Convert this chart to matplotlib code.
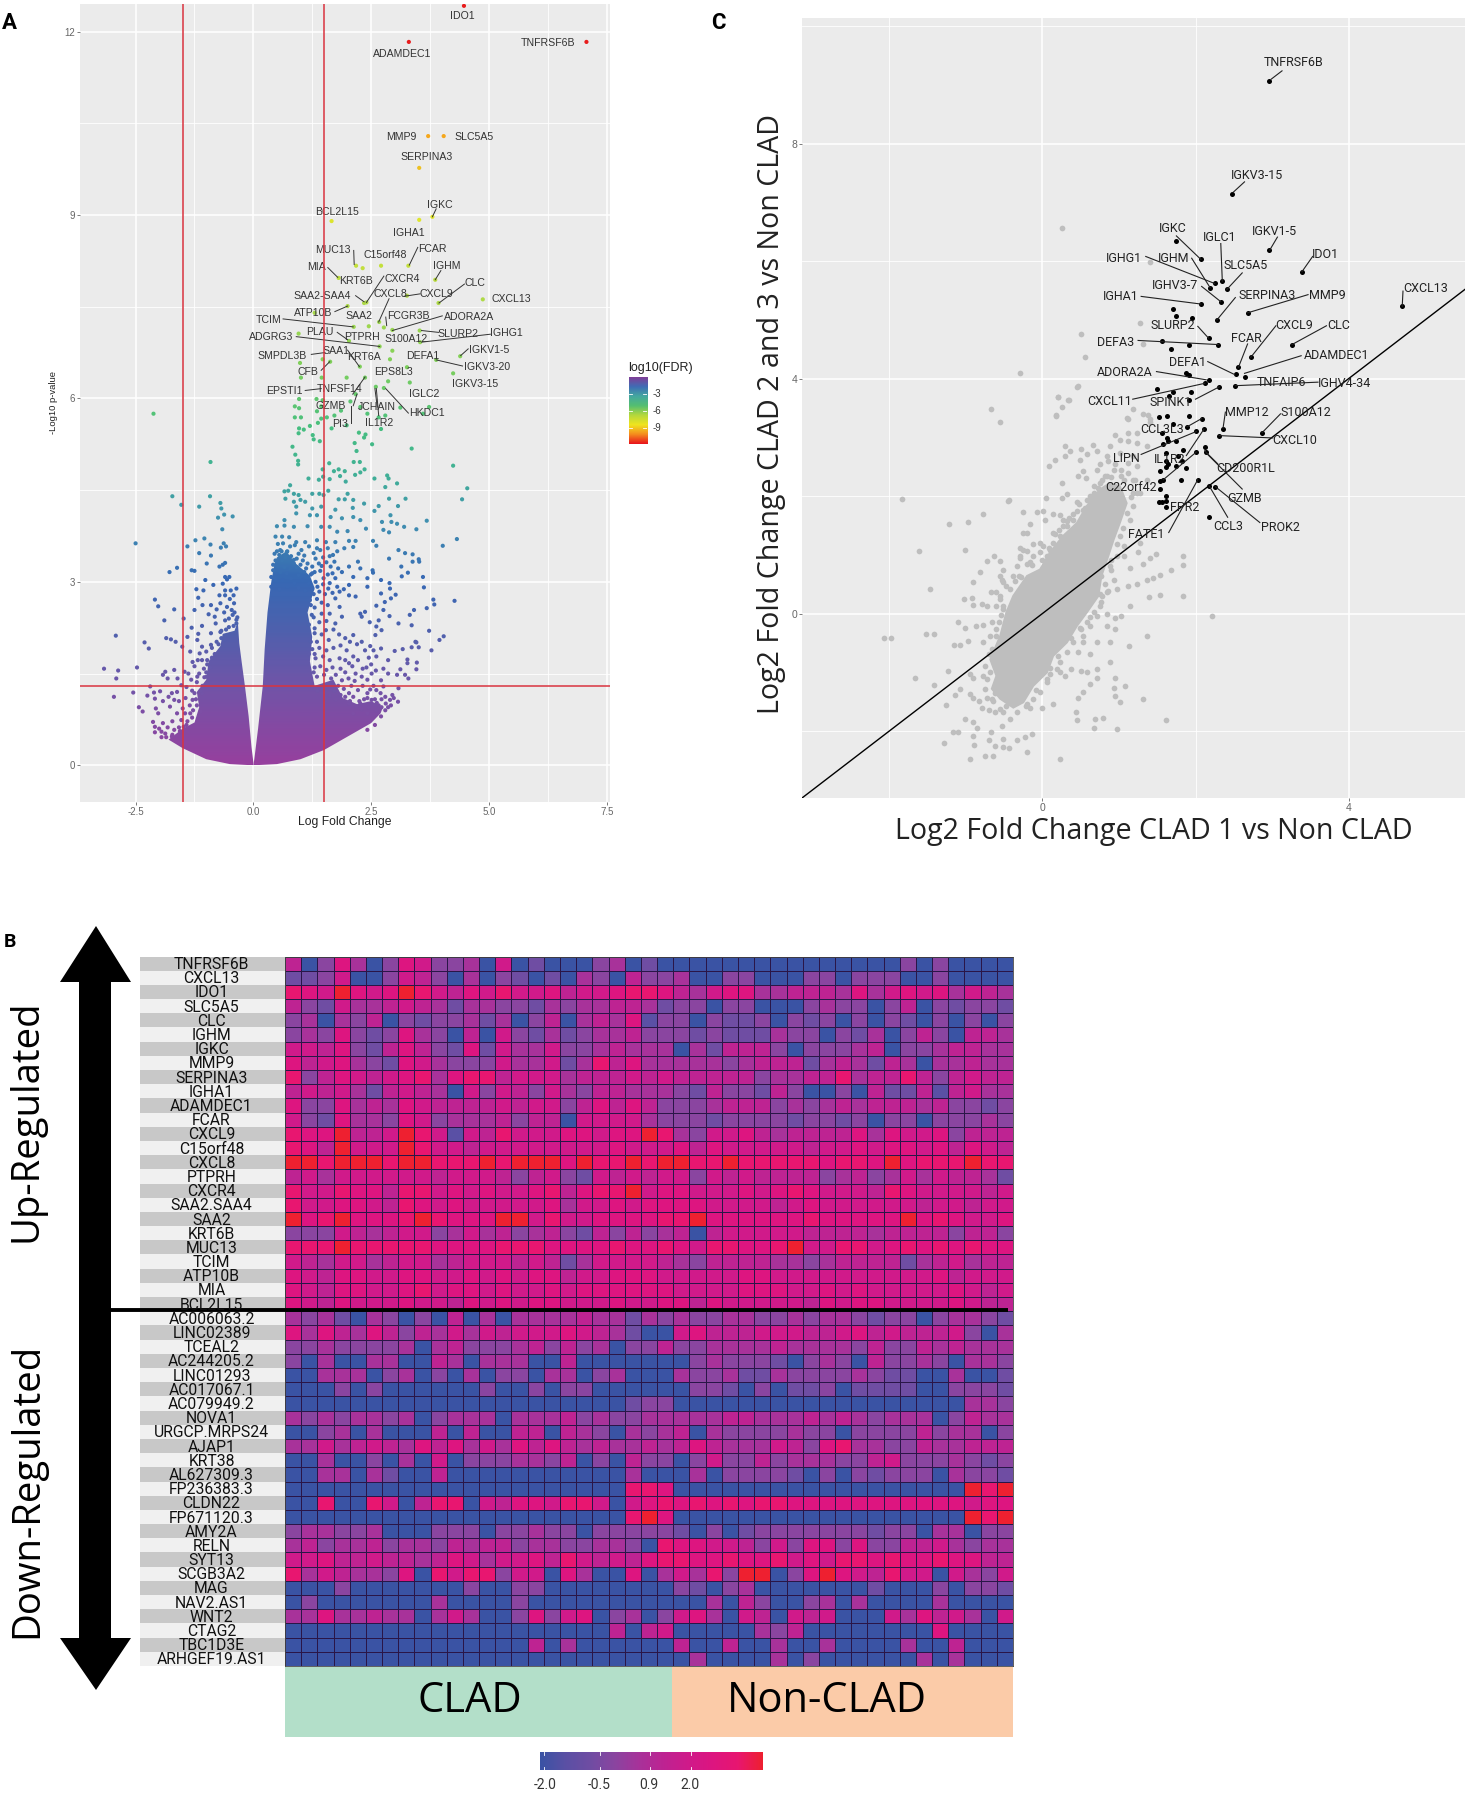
import numpy as np
import matplotlib
matplotlib.use("Agg")
import matplotlib.pyplot as plt
from matplotlib.colors import LinearSegmentedColormap, ListedColormap
from matplotlib.patches import Polygon, Rectangle

W, H = 1465, 1800
NARROW = ["Liberation Sans Narrow", "Roboto", "DejaVu Sans"]
ARIAL = ["Liberation Sans", "DejaVu Sans"]
WIDE = ["Open Sans", "DejaVu Sans"]

# ---- panel A: volcano plot (log fold change, -log10 p)
a_top_pts = [(4.47,12.42),(3.30,11.83),(7.07,11.83),(3.71,10.29),(4.04,10.29),(3.52,9.77),(1.66,8.90),(3.80,8.97),(3.52,8.92),
    (2.18,8.17),(2.32,8.13),(2.71,8.17),(3.29,8.17),(3.86,7.94),(1.81,7.97),(2.40,7.57),(2.35,7.56),(3.26,7.68),(3.93,7.56),
    (4.87,7.62),(2.0,7.51),(1.30,7.40),(2.67,7.25),(2.77,7.16),(2.95,7.12),(2.13,7.17),(2.45,7.18),(3.53,7.11),(3.54,6.92),
    (0.96,7.06),(2.03,6.94),(2.68,6.85),(2.26,6.52),(2.95,6.78),(2.90,6.64),(1.47,6.64),(1.63,6.60),(0.99,6.58),(3.88,6.63),
    (4.39,6.69),(4.24,6.41),(3.26,6.51),(1.01,6.34),(1.45,6.34),(1.98,6.34),(2.37,6.34),(2.86,6.28),(3.32,6.26),(2.60,6.19),(2.77,6.17)]
a_pts_6_5 = [(0.97,5.99),(1.34,5.99),(1.47,5.97),(2.17,6.07),(2.06,5.95),(0.88,5.87),(0.97,5.84),(1.44,5.87),(2.27,5.86),(3.12,5.85),
    (3.73,5.86),(1.35,5.79),(1.86,5.80),(2.42,5.75),(2.66,5.69),(2.80,5.72),(3.60,5.75),(0.88,5.69),(1.01,5.69),(1.44,5.67),(1.56,5.69),
    (1.72,5.72),(1.37,5.60),(1.98,5.56),(1.20,5.55),(1.66,5.51),(2.71,5.50),(0.97,5.51),(1.07,5.49),(0.96,5.43),(2.24,5.44),(1.26,5.40),
    (2.38,5.41),(2.35,5.36),(1.28,5.33),(1.41,5.30),(2.15,5.27),(2.52,5.25),(0.83,5.21),(3.36,5.18),(2.19,5.14),(0.89,5.08),(0.95,4.98),
    (0.95,4.92),(-0.91,4.96),(-2.12,5.75),(1.61,4.94),(2.13,4.96),(2.26,4.96),(4.24,4.90)]
a_pts_5_4 = [(1.47,4.84),(1.71,4.81),(1.81,4.84),(1.94,4.81),(1.84,4.73),(1.96,4.64),(1.17,4.69),(1.39,4.67),(1.48,4.72),(1.62,4.68),
    (2.16,4.75),(2.27,4.79),(2.36,4.84),(2.57,4.69),(2.84,4.74),(2.87,4.69),(2.80,4.55),(3.05,4.61),(4.54,4.53),(0.78,4.58),(-1.72,4.40),
    (-1.53,4.26),(-1.15,4.23),(-0.92,4.40),(-0.70,4.29),(-0.68,4.20),(-0.62,4.10),(-0.75,4.05),(-0.44,4.07),(0.66,4.48),(0.74,4.49),
    (0.86,4.44),(0.68,4.36),(0.96,4.42),(1.00,4.34),(1.10,4.31),(0.86,4.31),(1.25,4.44),(1.40,4.44),(1.49,4.42),(1.59,4.49),(2.00,4.44),
    (1.81,4.35),(1.94,4.35),(2.12,4.34),(2.35,4.28),(2.88,4.36),(3.23,4.36),(4.43,4.35),(2.66,4.24),(3.07,4.24),(2.57,4.16),(2.91,4.09),
    (2.12,4.06),(0.91,4.23),(1.25,4.20),(1.44,4.23),(1.74,4.18),(2.11,4.21),(0.91,4.12),(1.20,4.09),(1.35,4.09),(1.64,4.06),(1.88,4.04)]
a_pts_4_3 = [(-0.66,3.86),(-2.50,3.63),(-1.40,3.58),(-1.23,3.68),(-1.04,3.71),(-0.91,3.61),(-0.63,3.63),(-0.69,3.56),(-0.58,3.58),
    (-1.15,3.47),(-0.90,3.43),(-1.62,3.23),(-1.78,3.16),(-1.31,3.19),(-1.25,3.18),(-0.99,3.30),(-0.72,3.25),(-0.65,3.28),(-0.60,3.31),
    (-1.02,3.03),(-0.60,3.08),(-0.51,3.08),(-0.56,3.04),(0.50,3.91),(0.66,4.01),(0.66,3.92),(0.86,3.90),(1.15,3.91),(1.44,3.90),(1.62,3.90),
    (1.78,3.82),(2.00,3.83),(2.27,4.01),(2.39,3.87),(2.73,3.98),(2.76,3.85),(2.88,3.81),(2.93,3.98),(3.05,3.95),(3.20,3.90),(3.46,3.86),
    (3.68,4.00),(4.32,3.70),(4.02,3.59),(2.54,3.67),(2.61,3.59),(3.08,3.52),(3.22,3.47),(3.38,3.45),(2.88,3.38),(3.51,3.37),(3.38,3.33),
    (3.52,3.33),(3.14,3.25),(3.28,3.15),(3.15,3.09),(3.60,3.08),(2.53,3.19),(2.54,3.15),(0.47,3.74),(0.61,3.74),(0.76,3.73),(0.91,3.65),
    (1.10,3.65),(1.35,3.68),(1.54,3.65),(1.74,3.65),(2.03,3.67),(2.17,3.67),(2.12,3.57),(1.93,3.55),(0.57,3.52),(0.71,3.49),(0.96,3.46),
    (1.35,3.55),(1.69,3.44),(2.22,3.33),(0.47,3.35),(0.61,3.35),(0.86,3.30),(1.05,3.35),(1.25,3.25),(1.39,3.30),(1.64,3.25),(1.88,3.16),
    (2.03,3.25),(2.27,3.22),(0.42,3.19),(0.57,3.16),(0.71,3.14),(0.96,3.11),(1.25,3.14),(1.49,3.06),(1.74,3.06),(2.12,3.08),(2.42,3.06),(2.71,3.03)]
a_pts_3_2 = [(-0.85,2.95),(-0.65,2.97),(-0.36,2.89),(-1.21,2.88),(-1.06,2.86),(-0.60,2.86),(-1.17,2.74),(-0.60,2.78),(-2.09,2.71),(-2.02,2.60),
    (-1.68,2.55),(-1.25,2.54),(-1.48,2.40),(-1.89,2.37),(-0.95,2.47),(-0.82,2.43),(-0.70,2.65),(-0.56,2.59),(-0.41,2.65),(-0.46,2.54),(-0.80,2.32),
    (-0.60,2.37),(-0.36,2.32),(-1.31,2.25),(-1.09,2.28),(-2.92,2.12),(-1.85,2.08),(-1.75,2.06),(-1.65,2.02),(-2.31,2.01),(-1.40,2.10),(-1.17,2.15),
    (-0.90,2.16),(-0.70,2.18),(-1.51,1.94),(-2.22,1.91),(-1.19,2.05),(-1.09,1.94),(-1.34,1.86),(-1.14,1.83),(-0.90,1.97),(2.03,2.95),(2.42,2.92),
    (2.89,2.98),(2.90,2.89),(3.02,2.79),(2.92,2.73),(3.62,2.91),(3.82,2.71),(3.84,2.63),(4.27,2.69),(3.68,2.57),(3.41,2.54),(3.32,2.46),(2.71,2.81),
    (2.61,2.61),(2.79,2.67),(2.76,2.54),(2.27,2.48),(2.37,2.51),(2.30,2.43),(2.89,2.44),(3.08,2.32),(3.36,2.29),(2.47,2.34),(2.66,2.37),(2.61,2.27),
    (3.73,2.20),(4.04,2.11),(3.95,2.05),(3.44,2.02),(2.72,2.21),(2.59,2.13),(2.12,2.13),(1.83,2.59),(1.88,2.43),(1.74,2.32),(1.54,2.21),(2.03,2.78),
    (2.17,2.76),(1.83,2.84),(1.74,2.73),(1.59,2.89)]
a_pts_2_0 = [(-3.17,1.58),(-2.87,1.55),(-2.47,1.60),(-2.91,1.42),(-1.87,1.53),(-1.68,1.56),(-1.92,1.48),(-1.82,1.42),(-1.61,1.42),(-1.46,1.53),
    (-1.53,1.31),(-1.29,1.69),(-1.09,1.72),(-1.38,1.50),(-1.19,1.45),(-0.99,1.45),(-2.55,1.19),(-2.96,1.12),(-2.19,1.29),(-2.25,1.14),(-2.11,1.19),
    (-1.98,1.21),(-2.43,0.95),(-2.35,0.88),(-2.09,1.09),(-1.73,1.18),(-1.68,1.07),(-1.77,0.96),(-2.07,0.93),(-2.02,0.85),(-2.13,0.71),(-2.09,0.63),
    (-2.09,0.54),(-1.92,0.69),(-1.87,0.52),(-1.73,0.47),(-1.50,0.93),(-1.53,0.74),(-1.48,0.63),(-1.29,1.07),(-1.09,1.18),(-1.34,0.85),(2.71,1.91),
    (3.00,1.87),(3.17,1.90),(3.36,1.93),(3.51,1.93),(3.78,1.88),(3.46,2.01),(3.27,1.73),(3.27,1.67),(3.47,1.68),(3.46,1.57),(2.86,1.72),(2.61,1.78),
    (2.76,1.58),(3.12,1.57),(2.86,1.50),(3.05,1.48),(3.22,1.48),(3.29,1.42),(2.37,1.88),(2.12,1.78),(2.03,1.67),(2.32,1.58),(2.51,1.50),(2.17,1.50),
    (1.88,1.39),(2.71,1.39),(1.98,1.88),(1.83,1.75),(3.08,1.26),(2.95,1.15),(3.07,1.04),(2.90,1.07),(2.76,1.29),(2.61,1.23),(2.42,1.18),(2.22,1.23),
    (2.03,1.18),(2.81,1.01),(2.51,1.07),(2.27,1.01),(2.03,1.01),(2.61,0.90),(2.42,0.85),(2.12,0.85),(2.71,0.80),(2.58,0.66),(2.42,0.58)]
a_pts_right_upper = [(.52,3.62),(.63,3.63),(.78,3.58),(.88,3.60),(1.02,3.52),(1.18,3.58),(1.28,3.47),(1.42,3.52),(1.48,3.40),(1.58,3.55),(1.62,3.42),
    (1.78,3.50),(.45,3.46),(.55,3.44),(.68,3.40),(.80,3.42),(.92,3.38),(1.08,3.43),(1.15,3.30),(1.32,3.38),(1.45,3.26),(1.55,3.32),(1.72,3.33),(1.80,3.22),
    (.42,3.28),(.52,3.26),(.66,3.24),(.78,3.22),(.92,3.24),(1.0,3.18),(1.12,3.22),(1.30,3.16),(1.42,3.18),(1.58,3.12),(1.68,3.14),(.38,3.08),(.48,3.05),
    (.62,3.03),(.80,3.06),(.88,2.98),(1.05,3.03),(1.18,2.98),(1.32,3.0),(1.48,2.96),(1.62,2.98),(1.78,2.92),(1.92,2.88),(.38,2.92),(.55,2.88),(.72,2.92),
    (.96,2.90),(1.10,2.86),(1.25,2.88),(1.40,2.84),(1.52,2.80),(1.68,2.82),(1.35,2.72),(1.20,2.70),(1.45,2.66),(1.58,2.62),(1.30,2.58),(1.62,2.48),(1.45,2.48),
    (1.28,2.42),(1.40,2.34),(1.55,2.36),(1.70,2.22),(1.30,2.24),(1.45,2.14),(1.82,2.14),(1.95,2.08),(2.05,2.02),(1.60,2.05),(1.35,2.02)]
a_pts_right_lower = [(1.25,1.90),(1.40,1.92),(1.55,1.88),(1.70,1.92),(1.85,1.96),(2.20,1.98),(2.30,2.02),(2.48,1.95),(2.55,1.88),(1.32,1.75),(1.48,1.78),(1.62,1.72),
    (1.95,1.72),(2.22,1.72),(2.45,1.76),(2.50,1.65),(1.30,1.60),(1.42,1.62),(1.55,1.56),(1.68,1.60),(1.85,1.58),(1.95,1.52),(2.10,1.62),(2.40,1.60),(2.60,1.55),
    (1.35,1.45),(1.50,1.48),(1.65,1.42),(1.75,1.48),(2.02,1.42),(2.15,1.38),(2.30,1.45),(2.42,1.40),(2.55,1.30),(1.80,1.30),(1.92,1.25),(2.08,1.30),(2.32,1.30),
    (2.48,1.24),(2.70,1.18),(2.80,1.12),(1.72,1.22),(1.85,1.15),(2.12,1.12),(2.35,1.08),(2.62,1.02),(2.72,.95),(2.45,.95),(2.30,.92),(2.18,.96)]
a_pts_left = [(-.62,2.05),(-.78,2.02),(-.88,1.92),(-1.0,1.86),(-.82,1.82),(-.98,1.72),(-1.18,1.72),(-1.25,1.62),(-1.05,1.58),(-.92,1.60),(-1.15,1.50),(-1.32,1.40),
    (-1.42,1.28),(-1.20,1.36),(-1.08,1.30),(-1.30,1.22),(-1.44,1.10),(-1.58,1.05),(-1.22,1.08),(-1.35,.98),(-1.45,.85),(-1.62,.85),(-1.58,.62),(-1.72,.72),(-1.82,.62),
    (-1.40,.72),(-1.62,1.20),(-1.80,1.12),(-1.92,1.05),(-1.72,.50),(-1.95,.55),(-1.30,.78),(-1.12,.88),(-.58,2.22),(-.52,2.40),(-.44,2.46),(-.62,2.50),(-.78,2.55),
    (-.90,2.62),(-1.08,2.62),(-.72,2.78),(-.50,2.72),(-.40,2.50),(-.34,2.42),(-.48,2.86),(-.42,2.78)]
# dots along the rim of the solid mass
a_pts_rim = [(1.22,1.35),(1.28,1.52),(1.18,1.82),(1.30,1.82),(1.22,2.02),(1.30,2.16),(1.18,2.30),(1.24,2.46),(1.12,2.62),(1.22,2.62),(1.28,2.80),(1.36,2.92),(1.22,3.12),
    (1.08,3.16),(1.0,3.28),(.86,3.36),(.72,3.50),(.60,3.50),(.50,3.50),(1.36,1.22),(1.52,1.10),(1.62,1.14),(1.75,1.08),(1.95,1.12),(2.05,1.05),(2.25,1.05),(2.42,1.10),
    (2.58,1.08),(2.66,.98),(2.80,.90),(2.86,.95),(2.92,.98),(2.98,1.10),(2.72,1.08),(-1.28,.90),(-1.20,.98),(-1.25,1.18),(-1.12,1.22),(-1.04,1.44),(-1.0,1.52),(-.98,1.65),
    (-.88,1.76),(-.74,1.98),(-.68,2.08),(-.68,2.20),(-.52,2.26),(-.42,2.28),(-.36,2.38),(-1.42,.66),(-1.56,.56),(-1.68,.58),(-1.85,.46),(-1.95,.46),(-2.0,.60)]
# outlines of the two lobes where the dots merge into a solid mass
a_lobe_right = [(0,0),(.5,.02),(1,.1),(1.5,.25),(2,.47),(2.5,.69),(2.7,.85),(2.75,.95),(2.5,1.05),(2.2,1.0),(1.9,1.1),(1.7,1.4),(1.3,1.3),(1.2,1.7),(1.25,2.1),(1.15,2.5),
    (1.3,2.9),(1.2,3.1),(.9,3.3),(.7,3.5),(.5,3.4),(.45,3.3),(.38,3.0),(.3,2.5),(.24,1.9),(.2,1.3),(.1,.6),(.02,.1)]
a_lobe_left = [(0,0),(-.5,.02),(-1,.1),(-1.5,.28),(-1.8,.42),(-1.5,.6),(-1.25,.7),(-1.15,.95),(-1.2,1.2),(-1,1.4),(-.95,1.7),(-.7,1.95),(-.65,2.15),(-.4,2.2),(-.33,2.35),
    (-.3,2.0),(-.25,1.7),(-.18,1.3),(-.1,.8),(-.04,.3),(0,.05)]
a_labels = ["IDO1","ADAMDEC1","TNFRSF6B","MMP9","SLC5A5","SERPINA3","BCL2L15","IGKC","IGHA1","MUC13","C15orf48","FCAR","IGHM","MIA","KRT6B","CXCR4",
    "SAA2-SAA4","CXCL8","CXCL9","CLC","CXCL13","ATP10B","SAA2","FCGR3B","ADORA2A","TCIM","SLURP2","IGHG1","S100A12","PLAU","PTPRH","ADGRG3","SMPDL3B",
    "SAA1","KRT6A","DEFA1","IGKV1-5","IGKV3-20","IGKV3-15","CFB","EPS8L3","EPSTI1","TNFSF14","IGLC2","GZMB","JCHAIN","HKDC1","IL1R2","PI3"]
a_label_x = [4.44,3.16,6.25,3.14,4.68,3.67,1.78,3.96,3.29,1.69,2.79,3.80,4.10,1.33,2.17,3.15,1.47,2.91,3.88,4.70,5.48,1.28,2.25,3.29,4.57,0.32,4.34,5.38,
    3.24,1.40,2.30,0.37,0.62,1.75,2.35,3.60,5.01,4.95,4.71,1.15,2.98,0.66,1.83,3.62,1.64,2.61,3.68,2.66,1.84]
a_label_y = [12.25,11.63,11.81,10.28,10.28,9.95,9.05,9.16,8.70,8.42,8.34,8.44,8.16,8.15,7.92,7.96,7.67,7.70,7.70,7.89,7.63,7.40,7.34,7.35,7.33,7.28,7.06,7.07,
    6.97,7.08,7.00,7.00,6.69,6.78,6.68,6.69,6.79,6.51,6.23,6.43,6.44,6.12,6.16,6.07,5.87,5.86,5.76,5.59,5.58]
a_segs = [(3.88,9.10,3.80,8.97),(2.13,8.42,2.14,8.19),(3.49,8.47,3.31,8.18),(3.98,8.09,3.86,7.94),(1.58,8.14,1.79,7.98),(2.77,8.0,2.40,7.57),(2.17,7.68,2.35,7.58),
    (3.54,7.71,3.20,7.67),(4.48,7.87,3.94,7.56),(1.73,7.42,2.0,7.51),(2.88,7.63,2.66,7.25),(2.81,7.33,2.83,7.19),(4.01,7.35,2.95,7.11),(.63,7.30,2.12,7.17),
    (3.57,7.11,3.93,7.08),(5.03,7.05,3.57,6.92),(1.78,7.08,2.0,6.96),(.91,7.01,2.68,6.85),(1.23,6.72,1.52,6.75),(2.0,6.79,2.25,6.52),(4.56,6.81,4.40,6.70),
    (4.44,6.53,3.88,6.63),(1.44,6.46,1.62,6.60),(2.37,6.35,2.11,6.07),(1.10,6.13,1.44,6.16),(2.20,6.07,2.12,5.88),(2.61,6.16,2.66,5.72),(2.58,6.16,2.63,5.86),
    (2.81,6.16,3.29,5.76),(2.08,5.88,2.08,5.59)]

# ---- panel C: log2 fold change CLAD 1 against CLAD 2 and 3
c_black = [(2.96,9.07),(2.48,7.15),(1.74,6.34),(2.07,6.03),(2.35,5.66),(2.96,6.19),(3.39,5.82),(2.25,5.62),(2.19,5.55),(2.33,5.31),(2.41,5.52),(2.28,5.0),(2.68,5.12),
    (4.70,5.23),(2.07,5.27),(1.70,5.19),(1.74,5.06),(1.96,5.03),(2.72,4.36),(3.26,4.58),(2.17,4.69),(2.56,4.19),(2.30,4.58),(1.56,4.64),(1.91,4.58),(1.68,4.51),
    (2.64,4.03),(2.53,4.08),(2.18,3.98),(1.87,4.10),(1.92,4.07),(2.52,3.88),(2.12,3.92),(2.31,3.86),(1.50,3.83),(1.71,3.78),(1.94,3.78),(1.65,3.71),(1.91,3.64),
    (2.36,3.15),(2.87,3.08),(2.31,3.03),(2.08,3.32),(1.52,3.34),(1.63,3.36),(1.91,3.36),(1.70,3.22),(1.89,3.17),(2.11,3.14),(2.01,3.10),(1.56,3.07),(1.63,2.99),
    (1.64,2.94),(1.74,2.93),(1.58,2.88),(1.61,2.73),(1.84,2.78),(2.01,2.75),(2.12,2.83),(2.14,2.75),(1.62,2.60),(1.77,2.68),(1.83,2.60),(1.64,2.55),(1.61,2.49),
    (1.74,2.52),(1.87,2.47),(1.53,2.42),(1.58,2.28),(1.53,2.26),(1.81,2.28),(2.03,2.28),(1.53,2.12),(1.61,2.01),(1.61,1.92),(1.52,1.90),(1.56,1.90),(1.62,1.82),
    (2.18,2.17),(2.26,2.16),(2.17,1.65)]
c_gray_upper = [(.26,6.57),(1.40,5.98),(.51,4.76),(.55,4.36),(-.29,4.10),(.45,3.85),(1.27,4.94),(1.31,4.59),(.20,3.68),(.34,3.64),(.18,3.37),(-.55,3.27),(1.12,3.31),
    (1.31,3.40),(1.40,3.31),(-.45,1.92),(-.67,3.49),(.18,3.38),(.25,3.51),(.21,3.68),(.35,3.64),(.46,3.87),(1.19,3.48),(1.10,3.33),(1.38,3.38),(1.40,3.27),
    (1.23,3.07),(1.12,3.07),(.95,3.04),(1.01,2.96),(1.12,2.93),(1.23,2.90),(.30,2.85),(.36,2.76),(.51,2.80),(.66,2.87),(.71,2.76),(.30,2.68),(.17,2.62),(.08,2.52),
    (.49,2.62),(.58,2.71),(.75,2.54),(.86,2.59),(.95,2.54),(.53,2.42),(.47,2.34),(.57,2.31),(.82,2.34),(.71,2.45),(1.03,2.34),(1.12,2.39),(.25,2.22),(.67,2.17),
    (.73,2.14),(1.21,2.28),(1.19,2.05)]
c_gray_middle = [(-1.84,1.95),(-.44,1.94),(.05,1.96),(.25,1.97),(.32,2.03),(.45,1.90),(.58,1.94),(.67,2.0),(.56,1.80),(-.25,1.73),(-.07,1.73),(.01,1.74),(.14,1.70),
    (.23,1.68),(.03,1.60),(-.77,1.69),(-.97,1.56),(-1.22,1.52),(-.16,1.52),(-.25,1.38),(-.20,1.37),(.27,1.60),(.32,1.49),(.40,1.69),(.53,1.60),(.14,1.38),(.23,1.32),
    (-.03,1.21),(-.12,1.18),(-.29,1.12),(-.20,1.06),(-1.61,1.07),(-1.01,1.09),(-.63,.98),(-.55,.89),(-.73,.89),(-.29,.95),(-.20,.84),(.06,.98),(.10,1.09),(-.51,.75),
    (-.38,.64),(-.53,.58),(-.82,.70),(-.90,.54),(-1.47,.41),(-.67,.36),(-.55,.30),(-1.03,.24),(-.92,.27),(-.90,.14),(-.79,.16),(-.73,.13),(-.60,.13),(-.51,.07),
    (.75,.33),(.86,.38),(.97,.42),(1.12,.47),(1.23,.51),(1.36,.57),(1.45,.60),(1.53,.66),(1.68,.74),(1.84,.82),(1.84,.98),(1.49,1.01),(1.40,.95),(1.32,.85),(1.14,.78),
    (1.06,.98),(.90,.75),(.77,.64),(1.27,1.21),(1.25,1.04),(1.39,.29),(1.53,.32),(1.84,.30),(2.22,-.04)]
c_gray_lower = [(1.14,.13),(1.03,-.04),(.95,-.07),(.84,-.01),(.77,.19),(.67,.02),(.58,-.15),(.49,-.24),(.84,-.21),(.95,-.27),(1.36,-.38),(1.13,-.55),(.88,-.49),(.71,-.49),
    (.53,-.49),(.47,-.66),(.62,-.69),(.88,-.82),(.71,-.95),(.58,-1.0),(.51,-.97),(.38,-.95),(.30,-1.06),(.23,-1.0),(.10,-1.03),(.06,-1.11),(.95,-1.09),(1.08,-1.23),
    (.93,-1.26),(.95,-1.40),(1.01,-1.51),(.71,-1.09),(.62,-1.2),(.53,-1.33),(.47,-1.43),(1.32,-1.45),(.14,-1.54),(-.01,-1.60),(-.16,-1.60),(.44,-1.68),(.45,-1.81),
    (.69,-1.79),(.67,-1.94),(.79,-1.77),(.97,-1.96),(1.62,-1.82),(-2.07,-.42),(-1.98,-.42),(-1.52,-.35),(-1.42,-.34),(-1.10,-.14),(-1.01,-.24),(-.87,-.21),(-.77,-.19),
    (-.66,-.15),(-.97,-.46),(-1.15,-.53),(-1.07,-.53),(-.77,-.49),(-.68,-.38),(-1.66,-1.10),(-1.42,-1.22),(-1.23,-.97),(-1.07,-1.28),(-1.14,-1.39),(-.94,-1.03),(-.90,-1.09),
    (-.78,-1.06),(-.94,-1.37),(-.90,-1.43),(-.83,-1.48),(-1.26,-1.56),(-.73,-1.43),(-.64,-1.48),(-.79,-1.60),(-.70,-1.65),(-.62,-1.68),(-.51,-1.68),(-.42,-1.79),(-.53,-1.91),
    (-1.01,-1.79),(-.90,-1.85),(-.86,-1.94),(-1.17,-2.01),(-1.10,-2.02),(-.67,-2.01),(-.90,-2.08),(-1.28,-2.20),(-.89,-2.24),(-.70,-2.16),(-.51,-2.13),(-.33,-2.16),(-.23,-2.10),
    (-.14,-2.05),(-.62,-2.25),(-.51,-2.28),(-.43,-2.29),(-.64,-2.42),(-.75,-2.42),(-.95,-2.47),(-.20,-2.36),(.23,-2.47)]
c_gray_edge = [(-.55,.64),(-.51,.53),(-.60,.36),(-.55,.24),(-.47,.47),(-.33,.81),(-.29,.98),(-.25,1.09),(-.16,.87),(-.12,.98),(-.03,1.04),(.01,1.15),(.14,1.21),(.17,1.35),
    (.27,1.49),(.32,1.57),(.40,1.60),(.45,1.74),(.53,1.77),(.62,1.94),(.67,2.05),(.75,2.22),(.84,2.34),(.93,2.45),(1.03,2.45),(1.12,2.56),(1.19,2.28),(1.23,2.05),(1.19,1.83),
    (1.14,1.60),(1.01,1.32),(1.06,1.15),(.97,.98),(.88,.81),(.93,.58),(.84,.36),(.75,.13),(.71,-.04),(.62,-.21),(.53,-.38),(.40,-.49),(.32,-.66),(.23,-.83),(.19,-.95),(.06,-1.17),
    (-.03,-1.34),(-.12,-1.45),(-.20,-1.54),(-.33,-1.68),(-.55,-1.62),(-.66,-1.45),(-.75,-1.28),(-.73,-1.11),(-.75,-.89),(-.66,-.61),(-.60,-.38),(-.57,-.15),(-.51,.13),(-.31,.64),
    (1.27,2.05),(1.36,2.28),(1.23,2.51),(1.36,2.85),(1.19,2.68),(1.01,2.73),(.84,2.68),(.88,2.85)]
c_gray_rim = [(-.42,.42),(-.36,.55),(-.28,.62),(-.14,.82),(0,.92),(.08,1.12),(.22,1.42),(.35,1.62),(.48,1.86),(.62,2.0),(.78,2.28),(.9,2.32),(1.06,2.28),(1.16,1.98),(1.1,1.72),
    (1.05,1.45),(.98,1.18),(.9,.92),(.82,.5),(.78,.3),(.62,-.06),(.5,-.26),(.38,-.42),(.2,-.72),(.1,-.92),(-.08,-1.3),(-.22,-1.58),(-.48,-1.58),(-.62,-1.36),(-.68,-1.0),(-.7,-.68),
    (-.6,-.26),(-.54,-.02)]
c_cloud = [(-.68,-.78),(-.55,-.38),(-.47,.02),(-.38,.30),(-.29,.47),(-.20,.64),(-.03,.75),(.10,1.04),(.27,1.32),(.45,1.54),(.58,1.83),(.75,2.11),(.88,2.22),(1.01,2.17),(1.10,1.88),
    (1.01,1.54),(.93,1.26),(.86,.98),(.77,.64),(.73,.30),(.58,.02),(.45,-.21),(.32,-.49),(.14,-.72),(.06,-1.0),(-.12,-1.23),(-.25,-1.51),(-.38,-1.60),(-.55,-1.45),(-.66,-1.28),(-.60,-1.06)]
c_labels = ["TNFRSF6B","IGKV3-15","IGKC","IGLC1","IGKV1-5","IDO1","IGHG1","IGHM","IGHV3-7","SLC5A5","SERPINA3","MMP9","CXCL13","IGHA1","CXCL9","CLC","SLURP2","FCAR","DEFA3",
    "ADAMDEC1","DEFA1","ADORA2A","TNFAIP6","IGHV4-34","CXCL11","SPINK1","MMP12","S100A12","CXCL10","CCL3L3","LIPN","IL1R2","CD200R1L","GZMB","FPR2","C22orf42","CCL3","PROK2","FATE1"]
c_label_x = [3.28,2.80,1.70,2.32,3.03,3.70,1.07,1.71,1.73,2.66,2.94,3.72,5.00,1.02,3.29,3.87,1.71,2.66,.96,3.84,1.89,1.08,3.12,3.94,.88,1.68,2.67,3.44,3.29,1.56,1.10,1.66,2.66,2.64,1.86,1.16,2.43,3.11,1.36]
c_label_y = [9.38,7.46,6.56,6.41,6.50,6.12,6.05,6.05,5.58,5.92,5.42,5.41,5.54,5.40,4.90,4.90,4.90,4.69,4.61,4.40,4.28,4.10,3.94,3.91,3.61,3.60,3.43,3.42,2.94,3.14,2.64,2.63,2.47,1.96,1.81,2.14,1.48,1.46,1.34]
c_segs = [(3.13,9.24,2.99,9.10),(2.64,7.35,2.49,7.17),(1.75,6.43,2.07,6.03),(2.33,6.30,2.35,5.66),(3.07,6.41,2.97,6.19),(3.53,6.08,3.39,5.82),(1.35,6.08,2.25,5.62),(1.95,6.05,2.19,5.55),
    (2.08,5.57,2.33,5.31),(2.61,5.80,2.41,5.52),(2.52,5.38,2.28,5.00),(3.47,5.43,2.68,5.12),(4.71,5.49,4.70,5.23),(1.29,5.40,2.07,5.27),(3.05,4.90,2.72,4.36),(3.71,4.90,3.26,4.58),
    (2.03,4.89,2.17,4.69),(2.68,4.59,2.56,4.19),(1.25,4.65,2.30,4.58),(3.38,4.39,2.64,4.09),(2.16,4.29,2.51,4.07),(1.49,4.12,2.14,3.98),(2.52,3.88,3.60,3.94),(1.18,3.65,2.12,3.92),
    (2.0,3.65,2.31,3.86),(2.39,3.43,2.36,3.16),(3.11,3.40,2.87,3.08),(2.31,3.03,3.01,2.99),(1.89,3.18,2.08,3.32),(1.29,2.71,2.01,3.10),(1.88,2.69,2.11,3.14),(2.12,2.77,2.29,2.55),
    (2.15,2.72,2.61,2.12),(1.58,2.28,2.01,2.75),(1.65,1.38,2.03,2.28),(2.18,2.17,2.42,1.64),(2.26,2.16,2.84,1.55)]

# ---- panel B: heat map, one digit per cell, 0 is the blue end and 9 the red end
heat_genes = ["TNFRSF6B","CXCL13","IDO1","SLC5A5","CLC","IGHM","IGKC","MMP9","SERPINA3","IGHA1","ADAMDEC1","FCAR","CXCL9","C15orf48","CXCL8","PTPRH","CXCR4","SAA2.SAA4","SAA2",
    "KRT6B","MUC13","TCIM","ATP10B","MIA","BCL2L15","AC006063.2","LINC02389","TCEAL2","AC244205.2","LINC01293","AC017067.1","AC079949.2","NOVA1","URGCP.MRPS24","AJAP1","KRT38",
    "AL627309.3","FP236383.3","CLDN22","FP671120.3","AMY2A","RELN","SYT13","SCGB3A2","MAG","NAV2.AS1","WNT2","CTAG2","TBC1D3E","ARHGEF19.AS1"]
heat_rows = [
    "50374037633406020003402 0000000000000003030000",
    "22360036530403202043053 3400330003303330030000",
    "87697679865768667566788 7546774455547467674654",
    "53264456542443324344554 2330330003433035032332",
    "34043503233424035045471 3303223032303032030303",
    "34373237430506324234453 3323222433032403530554",
    "66573257532726446334544 4042555303334503345544",
    "75674327643336446248574 4444345552454254044544",
    "83576567847885666455565 6555553445584558535655",
    "56564256540636536435544 4325332530030522515644",
    "73374547655556566357575 3334555343454555453323",
    "63274437634445355066664 3332333323323033033343",
    "87795569861658666776779 8436675455557476673555",
    "87596669866566666666766 6757666665667677675765",
    "99899989988898999798898 9988988888788797888988",
    "56466666656665356326565 6636565555345346465542",
    "86687758867676678578896 7766676787666587666656",
    "86677658767666667466767 7776666567666666566566",
    "97897778987779968667777 8897777778777779787667",
    "33365456634645345325353 4505666665555455553553",
    "88898888877778887777877 8768877896688678787877",
    "65466456645666565246666 5435555443455552456455",
    "76577667766767677566777 6666677666666666675666",
    "76577667867767667677777 7666677766767666667656",
    "76576667665767677666766 7757666665767766667655",
    "43420430305040444454424 3433443343443233034432",
    "74754753546465666765420 0675556665567565556304",
    "33433334045333453534033 5334444544443533545444",
    "30400440054044400500000 0034333203430533430443",
    "00444034030403304403400 0433422433334322004002",
    "00030300000030030330000 0033203022302222003332",
    "00000000000000000000023 3000000000000000000443",
    "43434434034440444534334 4444554445454344403544",
    "00340400050500550543043 4504333343303333534403",
    "44645654757464757545445 4575444653784433544555",
    "00400304060333443503053 3036335344433563334323",
    "00440420050000000000040 0040333320303233304332",
    "00000000000000000000088 7000000000000000000989",
    "00800860588065776886067 8787878877777777777677",
    "00000000000000000000089 7000000000000000000989",
    "34433400033303343303333 3203023333333233044033",
    "45344534435455344334430 8776653637737335564344",
    "66755655457646675865657 8877877867688787787755",
    "84654437086883660740070 4648399037976586606436",
    "00030000000300330000000 0320340000000200030332",
    "03000000040000300000000 0004053003404000040000",
    "44744544046400373670340 3674065065600064756406",
    "00000000000000000000505 6000004350000000070000",
    "00000000000000050400000 0500500400400004005000",
    "00000000000000000000000 0040000403000000404000",
]
heat_colors = ["#3A53A4","#5A50A5","#6F4DA3","#8A45A0","#A8329A","#BE2392","#D01A8A","#DD1580","#E81670","#EE2030"]
heat_scale_labels = ["-2.0","-0.5","0.9","2.0"]
heat_scale_ticks = [0.02,0.27,0.495,0.675]

fig = plt.figure(figsize=(W/100, H/100), dpi=100, facecolor="white")


def px_axes(left, top, right, bottom, **kw):
    # axes placed by pixel box, y counted from the top of the picture
    return fig.add_axes([left/W, 1-bottom/H, (right-left)/W, (bottom-top)/H], **kw)


def gg_panel(ax, xmaj, xmin, ymaj, ymin):
    # grey panel with white grid in the ggplot look
    ax.set_facecolor("#EBEBEB")
    for s in ax.spines.values():
        s.set_visible(False)
    for v in xmaj:
        ax.axvline(v, color="white", lw=1.1, zorder=1)
    for v in xmin:
        ax.axvline(v, color="white", lw=0.6, zorder=1)
    for v in ymaj:
        ax.axhline(v, color="white", lw=1.1, zorder=1)
    for v in ymin:
        ax.axhline(v, color="white", lw=0.6, zorder=1)
    ax.tick_params(length=2, width=0.6, color="#666666", labelcolor="#666666", pad=1.5)


# panel A
ax_a = px_axes(80, 4, 610, 802)
ax_a.set_xlim(-3.68, 7.57)
ax_a.set_ylim(-0.6, 12.45)
gg_panel(ax_a, [-2.5, 0, 2.5, 5, 7.5], [-1.25, 1.25, 3.75, 6.25], [0, 3, 6, 9, 12], [1.5, 4.5, 7.5, 10.5])
ax_a.set_xticks([-2.5, 0, 2.5, 5, 7.5], ["-2.5", "0.0", "2.5", "5.0", "7.5"], fontsize=7, family=ARIAL)
ax_a.set_yticks([0, 3, 6, 9, 12], ["0", "3", "6", "9", "12"], fontsize=7, family=ARIAL)

volcano_cmap = LinearSegmentedColormap.from_list("volcano", [(y/12.0, c) for y, c in [
    (0, "#96409E"), (1.3, "#6F55A8"), (2.3, "#4A62AE"), (3, "#3768B4"), (4, "#4090B0"), (4.7, "#40AE98"), (5.5, "#46BE80"),
    (6.5, "#7CCF5C"), (7.5, "#ABD94A"), (9, "#E0E52B"), (10.3, "#F5A81C"), (11.8, "#E81C1C"), (12, "#E81C1C")]])
for lobe in (a_lobe_right, a_lobe_left):
    ramp = np.linspace(0, 12, 300)[::-1].reshape(-1, 1)
    im = ax_a.imshow(ramp, extent=(-3.68, 7.57, 0, 12), aspect="auto", cmap=volcano_cmap, vmin=0, vmax=12, zorder=2)
    patch = Polygon(lobe, closed=True, transform=ax_a.transData, facecolor="none", edgecolor="none")
    ax_a.add_patch(patch)
    im.set_clip_path(patch)
ax_a.set_xlim(-3.68, 7.57)
ax_a.set_ylim(-0.6, 12.45)
a_pts = np.array(a_top_pts + a_pts_6_5 + a_pts_5_4 + a_pts_4_3 + a_pts_3_2 + a_pts_2_0 + a_pts_right_upper + a_pts_right_lower + a_pts_left + a_pts_rim)
ax_a.scatter(a_pts[:, 0], a_pts[:, 1], c=a_pts[:, 1], cmap=volcano_cmap, vmin=0, vmax=12, s=9, linewidths=0, zorder=3)
for x0, y0, x1, y1 in a_segs:
    ax_a.plot([x0, x1], [y0, y1], color="#333333", lw=0.7, zorder=4)
for name, x, y in zip(a_labels, a_label_x, a_label_y):
    ax_a.text(x, y, name, fontsize=7.6, color="#333333", ha="center", va="center", family=ARIAL, zorder=5)
ax_a.axvline(-1.5, color="#D9343F", lw=1.1, zorder=6)
ax_a.axvline(1.5, color="#D9343F", lw=1.1, zorder=6)
ax_a.axhline(1.3, color="#D9343F", lw=1.1, zorder=6)

ax_leg = px_axes(628.5, 377, 647, 444)
legend_cmap = LinearSegmentedColormap.from_list("fdr", ["#7F3F98", "#3F6DB5", "#44A8A0", "#55BF70", "#B5D83C", "#F0E51E", "#F58C1E", "#E8141C"])
ax_leg.imshow(np.linspace(0, 1, 200).reshape(-1, 1), aspect="auto", cmap=legend_cmap, extent=(0, 1, -11.8, 0))
ax_leg.axis("off")
for v in (-3, -6, -9):
    ax_leg.plot([0, 0.2], [v, v], color="white", lw=0.6)
    ax_leg.plot([0.8, 1], [v, v], color="white", lw=0.6)
ax_leg.set_xlim(0, 1)
ax_leg.set_ylim(-11.8, 0)

# panel C
ax_c = px_axes(802, 18, 1465, 798)
ax_c.set_xlim(-3.14, 5.52)
ax_c.set_ylim(-3.14, 10.14)
gg_panel(ax_c, [0, 4], [-2, 2], [0, 4, 8], [-2, 2, 6, 10])
ax_c.set_xticks([0, 4], ["0", "4"], fontsize=7.5, family=ARIAL)
ax_c.set_yticks([0, 4, 8], ["0", "4", "8"], fontsize=7.5, family=ARIAL)
cloud = Polygon(c_cloud, closed=True, facecolor="#BEBEBE", edgecolor="#BEBEBE", lw=1.5, zorder=2)
ax_c.add_patch(cloud)
c_gray = np.array(c_gray_upper + c_gray_middle + c_gray_lower + c_gray_edge + c_gray_rim)
ax_c.scatter(c_gray[:, 0], c_gray[:, 1], color="#BEBEBE", s=17, linewidths=0, zorder=2)
ax_c.axline((0, 0), slope=1, color="black", lw=1.0, zorder=3)
c_blk = np.array(c_black)
ax_c.scatter(c_blk[:, 0], c_blk[:, 1], color="black", s=13, linewidths=0, zorder=4)
for x0, y0, x1, y1 in c_segs:
    ax_c.plot([x0, x1], [y0, y1], color="#222222", lw=0.8, zorder=4)
for name, x, y in zip(c_labels, c_label_x, c_label_y):
    ax_c.text(x, y, name, fontsize=9, color="#222222", ha="center", va="center", family=NARROW, zorder=5)

# panel B heat map
grid = np.array([[int(c) for c in row.replace(" ", "")] for row in heat_rows])
ax_h = px_axes(285, 956.5, 1013, 1666)
ax_h.pcolormesh(np.arange(46), np.arange(51), grid, cmap=ListedColormap(heat_colors), vmin=-0.5, vmax=9.5,
                edgecolors="#2A1648", linewidth=0.7)
ax_h.set_xlim(0, 45)
ax_h.set_ylim(50, 0)
ax_h.set_xticks([])
ax_h.set_yticks([])
for s in ax_h.spines.values():
    s.set_linewidth(0.6)
    s.set_color("#444444")

ax_s = px_axes(540, 1752, 763, 1770)
scale_cmap = LinearSegmentedColormap.from_list("heat", heat_colors)
ax_s.imshow(np.linspace(0, 1, 256).reshape(1, -1), aspect="auto", cmap=scale_cmap, extent=(0, 1, 0, 1))
ax_s.axis("off")
for t in heat_scale_ticks:
    ax_s.plot([t, t], [0.82, 1], color="white", lw=0.6)
    ax_s.plot([t, t], [0, 0.18], color="white", lw=0.6)
ax_s.set_xlim(0, 1)
ax_s.set_ylim(0, 1)

# everything placed by pixel on top of the panels
ov = fig.add_axes([0, 0, 1, 1], zorder=10)
ov.set_xlim(0, W)
ov.set_ylim(H, 0)
ov.axis("off")
ov.patch.set_alpha(0)

row_h = (1666-956.5)/50
for i, gene in enumerate(heat_genes):
    ov.add_patch(Rectangle((140, 956.5+i*row_h), 145, row_h, facecolor="#C8C8C8" if i % 2 == 0 else "#F0F0F0", edgecolor="none"))
    ov.text(211.5, 956.5+(i+0.5)*row_h+1, gene, fontsize=11.3, color="#111111", ha="center", va="center", family=NARROW)

ov.add_patch(Polygon([(96, 926), (131, 982), (111, 982), (111, 1638), (131, 1638), (96, 1690), (60, 1638), (79, 1638), (79, 982), (60, 982)],
                     closed=True, facecolor="black", edgecolor="none"))
ov.plot([111, 1008], [1310, 1310], color="black", lw=2.8, solid_capstyle="butt")
ov.text(27, 1121, "Up-Regulated", rotation=90, fontsize=27.5, ha="center", va="center", family=WIDE, color="black")
ov.text(27, 1490, "Down-Regulated", rotation=90, fontsize=27.5, ha="center", va="center", family=WIDE, color="black")

ov.add_patch(Rectangle((285, 1667), 387, 70, facecolor="#B3DFC9", edgecolor="none"))
ov.add_patch(Rectangle((672, 1667), 341, 70, facecolor="#FBCBA8", edgecolor="none"))
ov.text(470, 1701, "CLAD", fontsize=30, ha="center", va="center", family=WIDE)
ov.text(827, 1701, "Non-CLAD", fontsize=30, ha="center", va="center", family=WIDE)

for lab, x in zip(heat_scale_labels, [545, 599, 649, 690]):
    ov.text(x, 1785, lab, fontsize=10, color="#333333", ha="center", va="center", family=NARROW)

ov.text(54, 403, "-Log10 p-value", rotation=90, fontsize=6.8, color="#222222", ha="center", va="center", family=ARIAL)
ov.text(345, 822, "Log Fold Change", fontsize=8.7, color="#222222", ha="center", va="center", family=ARIAL)
ov.text(660, 368, "log10(FDR)", fontsize=9, color="#222222", ha="center", va="center", family=ARIAL)
for lab, y in zip(["-3", "-6", "-9"], [394, 411, 428]):
    ov.text(657, y, lab, fontsize=7, color="#333333", ha="center", va="center", family=ARIAL)

ov.text(1154, 831, "Log2 Fold Change CLAD 1 vs Non CLAD", fontsize=20.6, color="#222222", ha="center", va="center", family=WIDE)
ov.text(771, 414, "Log2 Fold Change CLAD 2 and 3 vs Non CLAD", rotation=90, fontsize=20.6, color="#222222", ha="center", va="center", family=WIDE)

ov.text(9, 23, "A", fontsize=16, fontweight="bold", ha="center", va="center", family=NARROW)
ov.text(10, 942, "B", fontsize=14, fontweight="bold", ha="center", va="center", family=NARROW)
ov.text(718, 23, "C", fontsize=16, fontweight="bold", ha="center", va="center", family=NARROW)

fig.savefig("out.png", dpi=100)
